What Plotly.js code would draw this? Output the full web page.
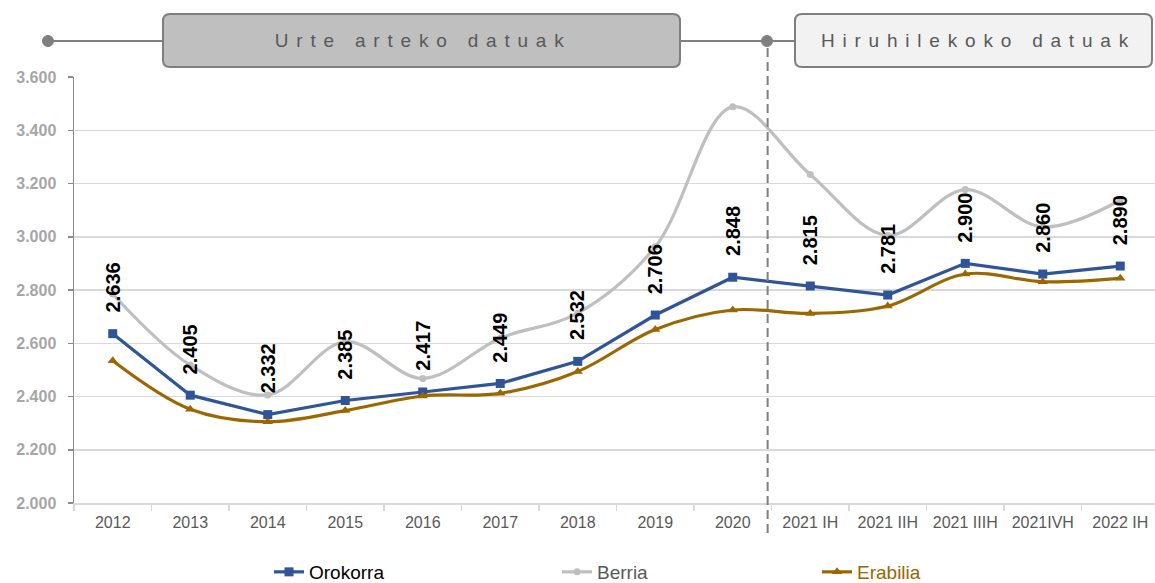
<!DOCTYPE html>
<html>
<head>
<meta charset="utf-8">
<script src="https://cdn.plot.ly/plotly-3.0.1.min.js"></script>
<style>
  html, body { margin: 0; padding: 0; background: #ffffff; overflow: hidden; }
  #chart { width: 1155px; height: 583px; }
  .annotation[data-index="0"] text, .annotation[data-index="1"] text { letter-spacing: 7.8px; }
</style>
</head>
<body>
<div id="chart"></div>
<script>
// ---- data ----
const categories = ['2012','2013','2014','2015','2016','2017','2018','2019','2020','2021 IH','2021 IIH','2021 IIIH','2021IVH','2022 IH'];
const orokorra = [2636, 2405, 2332, 2385, 2417, 2449, 2532, 2706, 2848, 2815, 2781, 2900, 2860, 2890];
const berria   = [2785, 2518, 2406, 2606, 2468, 2619, 2713, 2962, 3488, 3234, 3005, 3177, 3037, 3137];
const erabilia = [2534, 2352, 2305, 2347, 2402, 2412, 2494, 2652, 2725, 2712, 2740, 2860, 2831, 2844];
const seriesNames = ['Orokorra', 'Berria', 'Erabilia'];
const headerLabels = ['Urte arteko datuak', 'Hiruhilekoko datuak'];

// ---- geometry helpers (pixel -> paper) ----
const W = 1155, H = 583;
const M = {l: 74, r: 0, t: 77, b: 80};
const PW = W - M.l - M.r, PH = H - M.t - M.b;
const px = x => (x - M.l) / PW;
const py = y => (H - M.b - y) / PH;

function roundRect(x0, y0, x1, y1, r) {
  const p = (x, y) => px(x) + ',' + py(y);
  return 'M' + p(x0 + r, y0) +
    ' L' + p(x1 - r, y0) + ' Q' + p(x1, y0) + ' ' + p(x1, y0 + r) +
    ' L' + p(x1, y1 - r) + ' Q' + p(x1, y1) + ' ' + p(x1 - r, y1) +
    ' L' + p(x0 + r, y1) + ' Q' + p(x0, y1) + ' ' + p(x0, y1 - r) +
    ' L' + p(x0, y0 + r) + ' Q' + p(x0, y0) + ' ' + p(x0 + r, y0) + ' Z';
}
function dot(x, y, r) {
  return {type: 'circle', xref: 'paper', yref: 'paper', xsizemode: 'pixel', ysizemode: 'pixel',
    xanchor: px(x), yanchor: py(y), x0: -r, x1: r, y0: -r, y1: r,
    fillcolor: '#7F7F7F', line: {color: '#7F7F7F', width: 1}};
}
const fmt = v => Math.floor(v / 1000) + '.' + String(v % 1000).padStart(3, '0');

const FONT = 'Liberation Sans, Arial, sans-serif';
const BLUE = '#2F5597', GREY = '#BFBFBF', BROWN = '#9A6700';

const traces = [
  {x: categories, y: berria, name: '<span style="color:#595959">' + seriesNames[1] + '</span>', type: 'scatter', mode: 'lines+markers',
   line: {color: GREY, width: 3.2, shape: 'spline', smoothing: 1}, marker: {symbol: 'circle', size: 7, color: GREY},
   legend: 'legend2', hoverinfo: 'skip'},
  {x: categories, y: orokorra, name: '<span style="color:#000000">' + seriesNames[0] + '</span>', type: 'scatter', mode: 'lines+markers',
   line: {color: BLUE, width: 3.2}, marker: {symbol: 'square', size: 9, color: BLUE},
   legend: 'legend', hoverinfo: 'skip'},
  {x: categories, y: erabilia, name: '<span style="color:#996600">' + seriesNames[2] + '</span>', type: 'scatter', mode: 'lines+markers',
   line: {color: BROWN, width: 3.2, shape: 'spline', smoothing: 1}, marker: {symbol: 'triangle-up', size: 9, color: BROWN},
   legend: 'legend3', hoverinfo: 'skip'}
];

const annotations = [
  {xref: 'paper', yref: 'paper', x: px(423), y: py(41), xanchor: 'center', yanchor: 'middle', showarrow: false,
   text: headerLabels[0], font: {family: FONT, size: 19, color: '#595959'}},
  {xref: 'paper', yref: 'paper', x: px(978), y: py(41), xanchor: 'center', yanchor: 'middle', showarrow: false,
   text: headerLabels[1], font: {family: FONT, size: 19, color: '#595959'}}
];
orokorra.forEach((v, i) => {
  annotations.push({x: i, y: v, xref: 'x', yref: 'y', text: fmt(v), showarrow: false,
    textangle: -90, xanchor: 'center', yanchor: 'bottom', yshift: 19,
    font: {family: FONT, size: 20, color: '#000000', weight: 'bold'}});
});

const shapes = [
  {type: 'line', xref: 'paper', yref: 'paper', x0: px(48), x1: px(795), y0: py(41), y1: py(41),
   line: {color: '#7F7F7F', width: 2}},
  {type: 'line', xref: 'x', yref: 'paper', x0: 8.45, x1: 8.45, y0: py(533), y1: py(41),
   line: {color: '#7F7F7F', width: 2, dash: '9px,5px'}},
  {type: 'path', xref: 'paper', yref: 'paper', path: roundRect(163, 14, 680, 67, 7),
   fillcolor: '#BFBFBF', line: {color: '#7F7F7F', width: 2}},
  {type: 'path', xref: 'paper', yref: 'paper', path: roundRect(795, 14, 1152, 67, 7),
   fillcolor: '#F2F2F2', line: {color: '#7F7F7F', width: 2}},
  dot(48, 41, 5.5),
  dot(767, 41, 5.5)
];

const legendBase = {orientation: 'h', xanchor: 'left', yanchor: 'middle', yref: 'container', y: (H - 572) / H,
  bgcolor: 'rgba(0,0,0,0)', font: {family: FONT, size: 19, color: '#000000'}};

const layout = {
  width: W, height: H,
  margin: M,
  paper_bgcolor: '#ffffff', plot_bgcolor: '#ffffff',
  separators: ',.',
  font: {family: FONT},
  showlegend: true,
  legend: Object.assign({}, legendBase, {x: px(269)}),
  legend2: Object.assign({}, legendBase, {x: px(557)}),
  legend3: Object.assign({}, legendBase, {x: px(817)}),
  xaxis: {
    type: 'category', range: [-0.5, PW / 77.5 - 0.5], fixedrange: true, automargin: false,
    showgrid: false, showline: true, linecolor: '#D9D9D9', linewidth: 2,
    ticks: 'outside', tickson: 'boundaries', ticklen: 6, tickcolor: '#D9D9D9', tickwidth: 1.5,
    tickfont: {family: FONT, size: 16, color: '#595959'}, ticklabelstandoff: 4, zeroline: false
  },
  yaxis: {
    range: [2000, 3600], dtick: 200, tick0: 2000, tickformat: ',d', fixedrange: true, automargin: false,
    showgrid: true, gridcolor: '#D9D9D9', gridwidth: 1.5,
    showline: true, linecolor: '#8C8C8C', linewidth: 1.5,
    ticks: 'outside', ticklen: 5, tickcolor: '#8C8C8C', tickwidth: 1.5,
    tickfont: {family: FONT, size: 16, color: '#A6A6A6', weight: 'bold'}, ticklabelstandoff: 8, zeroline: false
  },
  annotations: annotations,
  shapes: shapes
};

Plotly.newPlot('chart', traces, layout, {staticPlot: true, displayModeBar: false});
</script>
</body>
</html>
